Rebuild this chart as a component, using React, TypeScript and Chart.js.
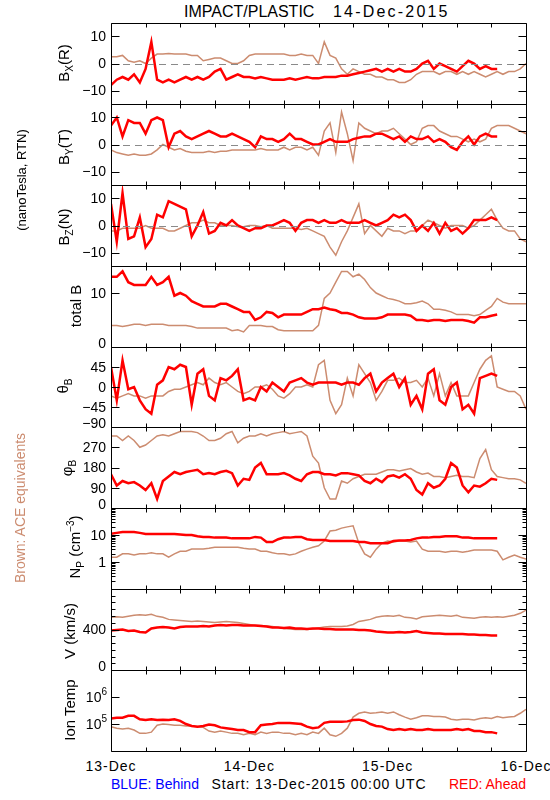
import React, { useEffect, useRef } from "react";
import { Chart, registerables } from "chart.js";

Chart.register(...registerables);

// ---------------- data (hours since 13-Dec-2015 00:00 UTC) ----------------
const HOURS_RED = [
  0, 1, 2, 3, 4, 5, 6, 7, 8, 9, 10, 11, 12, 13, 14, 15, 16, 17, 18, 19, 20, 21, 22, 23,
  24, 25, 26, 27, 28, 29, 30, 31, 32, 33, 34, 35, 36, 37, 38, 39, 40, 41, 42, 43, 44, 45, 46, 47,
  48, 49, 50, 51, 52, 53, 54, 55, 56, 57, 58, 59, 60, 61, 62, 63, 64, 65, 66, 67,
];
const HOURS_ACE = [
  0, 1, 2, 3, 4, 5, 6, 7, 8, 9, 10, 11, 12, 13, 14, 15, 16, 17, 18, 19, 20, 21, 22, 23,
  24, 25, 26, 27, 28, 29, 30, 31, 32, 33, 34, 35, 36, 37, 38, 39, 40, 41, 42, 43, 44, 45, 46, 47,
  48, 49, 50, 51, 52, 53, 54, 55, 56, 57, 58, 59, 60, 61, 62, 63, 64, 65, 66, 67, 68, 69, 70, 71, 72,
];

const BX_RED = [
  -8, -6, -5, -6, -4, -7, -2, 8, -6, -7,
  -6, -7, -6, -5, -6, -5, -6, -5, -3, -2,
  -6, -5, -4, -5, -5, -5.5, -5, -5.5, -6, -6,
  -6, -5.5, -6, -5.5, -5, -5.5, -5.5, -5, -5, -5,
  -4.5, -4.5, -4, -3.5, -3, -2.5, -2, -3, -2, -3,
  -2, -3, -3, -2, 0, 1, -2, 0, -1, -2,
  -3, -1, 1, 0, -2, -1, -2, -2,
];
const BX_ACE = [
  2.5, 2.5, 3, 1, 0.5, 1, 0, 2, 3.5, 3.5,
  3.7, 3.5, 3.5, 3.5, 3, 3, 1, 1.5, 2, 2,
  1, 0, 0, 1, 3, 3.5, 3.5, 3.5, 3.5, 3.5,
  3.5, 3, 3, 3.5, 3, 3, 0, 8, 3, 2,
  -2, -4, -2, -3, -4, -4, -5, -5, -6, -6,
  -7, -7, -6, -4, -3, -3, -3, -4, -3, -3,
  -4, -3, -4, -3, -4, -5, -4, -3, -4, -3,
  -3, -2, 0,
];

const BY_RED = [
  7, 10, 3, 9, 8, 8, 4, 9, 10, 9,
  -1, 4, 5, 3, 2, 3, 4, 5, 4, 3,
  3, 4, 3, 2, 1, -1, 3, 2, 2, 1,
  2, 4, 2, 2, 1, 0, 0, 1, 2, 1,
  1, 1, 2, 2.5, 3, 3, 4, 4, 3, 2,
  3, 1, 3, 2, 2, 3, 1, 2, 1, -1,
  -2, 1, 3, 0, 3, 4, 3, 3,
];
const BY_ACE = [
  -2, -3, -3.5, -4, -3.5, -4, -4, -3.5, -2, 0,
  -1, -2, -1.5, -2.5, -3, -3, -3, -2.5, -3, -2.5,
  -2.5, -2, -2, -2, -2, -2, -1.5, -2, -2, -2,
  -1, -2, -1, -1, -2, -1, -4, 5, 8, -3,
  12, 4, -6, 8, 6, 5, 4, 5, 5, 6,
  4, 2, 0, 1, 6, 7, 7, 5, 4, 3,
  3, 2, 1, 2, 1, 2, 6, 7, 7, 7,
  6, 5, 4,
];

const BZ_RED = [
  8, -6, 12, -5, -4, 3, -8, -5, 4, 3,
  9, 8, 7, 6, -4, 0, 5, -3, -2, 1,
  0, 2, 0, -1, -2, -1, -1, 0, 0, 1,
  2, 1, -2, 1, 2, 2, 1, 2, 1, 1,
  2, 1, 1, 1, 2, 1, 0, 1, 2, 4,
  3, 4, 2, -2, 0, -2, 1, -3, 1, -2,
  -1, -3, -1, 2, 2, 2, 3, 2,
];
const BZ_ACE = [
  -2, -2, -1, -1, -1, -1, 0, -1, -1, -1,
  -2, -2, -1, 0, 1, 1, 2, 1, 1, 0,
  0, 0, -0.5, -0.5, 0, 0, -0.5, 0, -1, -1,
  -1, -1, -1, -1.5, -1, -2, -3, -4, -8, -11,
  -6, -2, 3, 8, -3, 0, -2, -4, -1, -2,
  -2, -3, -2, -2, 0, 2, 1, 0, -1, 0,
  0, 0, -1, 0, 2, 4, 6, 2, -1, -2,
  -2, -5, -6,
];

const BTOT_RED = [
  13, 13, 14, 12, 11.5, 11.5, 11.5, 13, 11.5, 12,
  13, 9.5, 10, 9.5, 8.5, 8, 7.5, 7.5, 7.5, 8,
  8, 7.5, 7, 6.5, 6.5, 5, 5.5, 6.5, 6.3, 5.5,
  6, 6, 6, 6, 6.5, 7, 7, 7.3, 7, 6.8,
  6.3, 6.3, 6, 5.5, 5.3, 5.3, 5.3, 5.5, 6, 6,
  6, 6, 5.8, 5, 5, 4.8, 5, 5, 4.8, 5,
  5, 5, 4.8, 4.5, 5.5, 5.5, 5.8, 6,
];
const BTOT_ACE = [
  4, 4, 3.8, 4, 4.2, 4.2, 4, 4.2, 4.2, 4.2,
  4, 4, 4, 4, 3.8, 3.5, 3.5, 3.5, 3.5, 3.5,
  3.5, 3, 3.2, 2.8, 4, 4, 4, 3.8, 3.8, 3.2,
  3, 3, 3, 3, 3, 3, 4, 9, 10, 12,
  14, 14, 13, 13.5, 12.5, 11, 10, 9.5, 9, 8.8,
  8.5, 8, 8, 8.2, 8.5, 8, 7, 7, 6.8, 6.5,
  6, 6, 6, 5.8, 6, 6.8, 7.5, 9, 8.3, 8,
  8, 8, 8,
];

const THETA_RED = [
  45, -30, 60, -5, 0, -30, -50, -60, 5, 15,
  45, 40, 50, 45, -40, 30, 40, -20, -30, 20,
  15, 25, 40, -30, -25, -30, 0, -10, 10, 0,
  -10, 10, 15, 20, 10, 5, 10, 10, 10, 10,
  5, 10, 10, 5, 20, 30, -10, 10, 20, 30,
  0, 20, -40, -20, -50, 30, 40, -30, -40, 0,
  10, -50, -40, -60, 20, 25, 30, 25,
];
const THETA_ACE = [
  -20, -25, -20, -15, -20, -20, -25, -20, -20, -20,
  -10, -5, -5, 0, 5, 10, 5, 20, 10, 5,
  10, 0, -10, -15, -10, 0, 0, 5, -5, -20,
  -25, -15, 0, 0, 5, 0, 50, 60, -30, -60,
  -40, 20, -20, 50, 30, 10, -30, -10, 15, 15,
  20, 10, 10, 15, 0, 20, -20, 30, -20, 10,
  -20, -20, -20, 10, 40, 60, 70, 0, -5, -10,
  -10, -20, -50,
];

const PHI_RED = [
  150, 100, 120, 110, 115, 100, 80, 110, 40, 120,
  140, 160, 150, 160, 165, 170, 150, 155, 150, 160,
  165, 155, 100, 130, 125, 180, 200, 150, 150, 150,
  155, 145, 130, 120, 150, 160, 160, 150, 150, 145,
  155, 155, 150, 145, 120, 110, 130, 115, 140, 145,
  135, 150, 130, 80, 60, 110, 90, 100, 130, 200,
  180, 100, 70, 100, 95, 110, 130, 125,
];
const PHI_ACE = [
  320, 320, 300, 320, 300, 270, 280, 300, 320, 325,
  320, 330, 340, 340, 340, 335, 320, 300, 300, 310,
  330, 340, 290, 310, 320, 320, 330, 320, 330, 335,
  340, 330, 335, 340, 320, 230, 200, 90, 40, 40,
  120, 110, 130, 140, 150, 150, 150, 160, 170, 170,
  165, 170, 175, 160, 150, 155, 140, 140, 135, 140,
  145, 140, 140, 135, 220, 260, 170, 140, 135, 130,
  130, 125, 110,
];

const NP_RED = [
  11, 12, 13, 13, 13, 12, 11, 11, 11, 11,
  11, 11, 10.5, 10, 10, 9, 8.5, 8.5, 8, 8,
  8, 7.5, 7.5, 7.5, 7.5, 8.5, 8, 5.5, 5.5, 7,
  8, 8, 8.5, 8.5, 7, 6.5, 6.5, 6.5, 6, 6,
  6, 6, 6, 5.5, 5.5, 5, 5, 5, 5, 6,
  6.2, 6.2, 6.5, 7.5, 8, 8, 8.5, 8.5, 9, 9,
  9, 8, 8, 7.5, 7.5, 7.5, 7.5, 7.5,
];
const NP_ACE = [
  1.5, 1.5, 2, 2, 1.8, 2, 2, 2.2, 2, 2,
  1.5, 2, 2.5, 2.5, 3, 3, 3, 3.2, 3.5, 3.5,
  3.5, 3.5, 3.5, 3.2, 3, 3, 2.5, 2.5, 2.2, 2,
  2, 1.8, 2, 2.5, 3, 3.5, 4, 6, 14, 15,
  18, 20, 22, 5, 2, 1.5, 3, 5, 6, 5.5,
  6, 6, 5.5, 6, 3, 2.5, 2.5, 2.5, 2.3, 2.5,
  2.5, 2.3, 2.5, 2.8, 2.8, 2.8, 2.8, 2.5, 1.2, 1.5,
  1.8, 1.5, 1.3,
];

const V_RED = [
  390, 395, 400, 385, 390, 375, 370, 410, 420, 425,
  420, 410, 425, 430, 430, 430, 435, 430, 440, 445,
  440, 445, 445, 440, 440, 440, 435, 430, 420, 420,
  415, 420, 410, 410, 405, 410, 410, 405, 405, 400,
  400, 400, 400, 395, 395, 390, 380, 375, 370, 370,
  375, 370, 375, 385, 370, 365, 360, 360, 355, 355,
  355, 355, 350, 350, 345, 345, 340, 340,
];
const V_ACE = [
  520, 525, 520, 530, 540, 545, 540, 550, 530, 520,
  500, 495, 490, 485, 480, 485, 480, 475, 470, 475,
  480, 475, 470, 460, 450, 440, 440, 435, 430, 420,
  410, 405, 400, 400, 400, 405, 415, 425, 430, 430,
  430, 435, 450, 480, 490, 500, 520, 530, 535, 530,
  540, 520, 515, 505, 525, 530, 535, 540, 535, 530,
  540, 520, 515, 510, 520, 525, 520, 525, 520, 530,
  540, 560, 590,
];

const TEMP_RED = [
  1.6e5, 1.7e5, 1.7e5, 2.0e5, 2.0e5, 1.5e5, 1.4e5, 1.5e5, 1.4e5, 1.45e5,
  1.4e5, 1.5e5, 1.3e5, 1.0e5, 0.85e5, 0.8e5, 0.85e5, 0.95e5, 0.9e5, 0.75e5,
  0.7e5, 0.65e5, 0.6e5, 0.6e5, 0.5e5, 0.5e5, 0.9e5, 0.95e5, 1.0e5, 1.1e5,
  1.1e5, 1.1e5, 1.05e5, 1.0e5, 0.8e5, 0.7e5, 0.75e5, 1.1e5, 1.2e5, 1.2e5,
  1.2e5, 1.25e5, 1.4e5, 1.45e5, 1.3e5, 1.0e5, 0.85e5, 0.8e5, 0.65e5, 0.6e5,
  0.65e5, 0.6e5, 0.65e5, 0.6e5, 0.6e5, 0.65e5, 0.6e5, 0.6e5, 0.6e5, 0.6e5,
  0.65e5, 0.6e5, 0.65e5, 0.55e5, 0.55e5, 0.5e5, 0.5e5, 0.45e5,
];
const TEMP_ACE = [
  0.8e5, 0.7e5, 0.65e5, 0.7e5, 0.6e5, 0.45e5, 0.45e5, 0.5e5, 0.9e5, 1.0e5,
  0.95e5, 0.9e5, 0.9e5, 0.85e5, 0.85e5, 0.8e5, 0.75e5, 0.55e5, 0.5e5, 0.55e5,
  0.5e5, 0.45e5, 0.45e5, 0.4e5, 0.45e5, 0.4e5, 0.5e5, 0.45e5, 0.5e5, 0.5e5,
  0.45e5, 0.45e5, 0.4e5, 0.45e5, 0.4e5, 0.5e5, 0.45e5, 0.7e5, 0.4e5, 0.35e5,
  0.45e5, 0.7e5, 1.8e5, 2.5e5, 2.8e5, 2.5e5, 2.6e5, 2.8e5, 2.5e5, 2.8e5,
  2.2e5, 1.8e5, 1.5e5, 1.7e5, 2.0e5, 2.0e5, 1.9e5, 1.9e5, 1.8e5, 1.5e5,
  1.4e5, 1.5e5, 1.5e5, 1.4e5, 1.6e5, 1.7e5, 1.6e5, 1.9e5, 1.7e5, 1.8e5,
  1.9e5, 2.5e5, 3.5e5,
];

// axis ticks / labels
const DAY_LABELS = ["13-Dec", "14-Dec", "15-Dec", "16-Dec"];
const DAY_HOURS = [0, 24, 48, 72];
const X_TICK_HOURS = [0, 6, 12, 18, 24, 30, 36, 42, 48, 54, 60, 66, 72];
const NP_MINOR = [0.2, 0.3, 0.4, 0.5, 0.6, 0.7, 0.8, 0.9, 2, 3, 4, 5, 6, 7, 8, 9, 20, 30, 40, 50, 60, 70, 80, 90];
const V_MINOR = [66.7, 133.3, 200, 266.7, 333.3, 466.7, 533.3, 600, 666.7, 733.3];

// ---------------- layout / style ----------------
const RED = "#ff0000";
const TAN = "rgb(204,140,112)";
const FONT = "'Liberation Sans', Arial, Helvetica, sans-serif";
const PLOT_LEFT = 111;
const PLOT_RIGHT = 526;
const PAD = 3;
const PANEL_TOPS = [23, 104, 185, 266, 347, 427, 508, 589, 670];
const PLOT_BOTTOM = 751;

type Lab = { v: number; t: string; exp?: string };
type Spec = {
  red: number[];
  ace: number[];
  min: number;
  max: number;
  log?: boolean;
  zero?: boolean;
  labels: Lab[];
  left: number[];
  right: number[];
  minor?: number[];
};

const M = "\u2212";
const PANELS: Spec[] = [
  { red: BX_RED, ace: BX_ACE, min: -15, max: 15, zero: true,
    labels: [{ v: 10, t: "10" }, { v: 0, t: "0" }, { v: -10, t: M + "10" }],
    left: [10, 0, -10], right: [10, 5, 0, -5, -10] },
  { red: BY_RED, ace: BY_ACE, min: -15, max: 15, zero: true,
    labels: [{ v: 10, t: "10" }, { v: 0, t: "0" }, { v: -10, t: M + "10" }],
    left: [10, 0, -10], right: [10, 5, 0, -5, -10] },
  { red: BZ_RED, ace: BZ_ACE, min: -15, max: 15, zero: true,
    labels: [{ v: 10, t: "10" }, { v: 0, t: "0" }, { v: -10, t: M + "10" }],
    left: [10, 0, -10], right: [10, 5, 0, -5, -10] },
  { red: BTOT_RED, ace: BTOT_ACE, min: 0, max: 15,
    labels: [{ v: 10, t: "10" }, { v: 0, t: "0" }],
    left: [10], right: [10, 5] },
  { red: THETA_RED, ace: THETA_ACE, min: -90, max: 90,
    labels: [{ v: 45, t: "45" }, { v: 0, t: "0" }, { v: -45, t: M + "45" }, { v: -90, t: M + "90" }],
    left: [45, 0, -45], right: [45, 0, -45] },
  { red: PHI_RED, ace: PHI_ACE, min: 0, max: 360,
    labels: [{ v: 270, t: "270" }, { v: 180, t: "180" }, { v: 90, t: "90" }, { v: 0, t: "0" }],
    left: [270, 180, 90], right: [270, 180, 90] },
  { red: NP_RED, ace: NP_ACE, min: 0.1, max: 100, log: true,
    labels: [{ v: 10, t: "10" }, { v: 1, t: "1" }],
    left: [10, 1], right: [10, 1], minor: NP_MINOR },
  { red: V_RED, ace: V_ACE, min: 0, max: 800,
    labels: [{ v: 400, t: "400" }, { v: 0, t: "0" }],
    left: [400], right: [600, 400, 200], minor: V_MINOR },
  { red: TEMP_RED, ace: TEMP_ACE, min: 1e4, max: 1e7, log: true,
    labels: [{ v: 1e6, t: "10", exp: "6" }, { v: 1e5, t: "10", exp: "5" }],
    left: [1e6, 1e5], right: [1e6, 1e5] },
];

function makeFrame(spec: Spec) {
  return {
    id: "frame",
    afterDatasetsDraw(chart: any) {
      const { ctx, chartArea: a, scales } = chart;
      const xs = scales.x;
      const ys = scales.y;
      const L = a.left + 0.5;
      const R = a.right + 0.5;
      const T = a.top + 0.5;
      const B = a.bottom + 0.5;
      ctx.save();
      if (spec.zero) {
        const y0 = Math.round(ys.getPixelForValue(0)) + 0.5;
        ctx.strokeStyle = "#8a8a8a";
        ctx.lineWidth = 1;
        ctx.setLineDash([7, 5]);
        ctx.beginPath();
        ctx.moveTo(a.left, y0);
        ctx.lineTo(a.right, y0);
        ctx.stroke();
        ctx.setLineDash([]);
      }
      ctx.strokeStyle = "#000";
      ctx.lineWidth = 1;
      ctx.beginPath();
      ctx.rect(L, T, R - L, B - T);
      for (const h of X_TICK_HOURS) {
        const px = Math.round(xs.getPixelForValue(h)) + 0.5;
        ctx.moveTo(px, T);
        ctx.lineTo(px, T + 4);
        ctx.moveTo(px, B);
        ctx.lineTo(px, B - 4);
      }
      const yp = (v: number) => Math.round(ys.getPixelForValue(v)) + 0.5;
      for (const v of spec.left) {
        const y = yp(v);
        ctx.moveTo(L, y);
        ctx.lineTo(L + 8, y);
      }
      for (const v of spec.right) {
        const y = yp(v);
        ctx.moveTo(R, y);
        ctx.lineTo(R - 8, y);
      }
      if (spec.minor) {
        for (const v of spec.minor) {
          const y = yp(v);
          ctx.moveTo(L, y);
          ctx.lineTo(L + 4, y);
          ctx.moveTo(R, y);
          ctx.lineTo(R - 4, y);
        }
      }
      ctx.stroke();

      ctx.fillStyle = "#000";
      ctx.textBaseline = "middle";
      ctx.textAlign = "right";
      for (const lb of spec.labels) {
        let y = ys.getPixelForValue(lb.v);
        y = Math.min(y, a.bottom - 4);
        if (lb.exp) {
          ctx.font = "10px " + FONT;
          const ew = ctx.measureText(lb.exp).width;
          ctx.fillText(lb.exp, 107, y - 5);
          ctx.font = "14px " + FONT;
          ctx.fillText(lb.t, 107 - ew, y + 1);
        } else {
          ctx.font = "14px " + FONT;
          ctx.fillText(lb.t, 106, y + 1);
        }
      }
      ctx.restore();
    },
  };
}

const subS: React.CSSProperties = { fontSize: "10px", lineHeight: 0, verticalAlign: "-4px" };
const supS: React.CSSProperties = { fontSize: "10px", lineHeight: 0, verticalAlign: "6px" };

const Y_TITLES: { x: number; y: number; node: React.ReactNode }[] = [
  { x: 63, y: 63, node: <>B<span style={subS}>X</span>(R)</> },
  { x: 63, y: 147, node: <>B<span style={subS}>Y</span>(T)</> },
  { x: 63, y: 227, node: <>B<span style={subS}>Z</span>(N)</> },
  { x: 75, y: 306, node: <>total B</> },
  { x: 62, y: 386, node: <>θ<span style={subS}>B</span></> },
  { x: 66, y: 468, node: <>φ<span style={subS}>B</span></> },
  { x: 74, y: 547, node: <>N<span style={subS}>P</span> (cm<span style={supS}>{M}3</span>)</> },
  { x: 69, y: 631, node: <>V (km/s)</> },
  { x: 69, y: 710, node: <>Ion Temp</> },
];

function VText(props: { x: number; y: number; size: number; color?: string; children: React.ReactNode }) {
  return (
    <div
      style={{
        position: "absolute",
        left: props.x,
        top: props.y,
        transform: "translate(-50%, -50%) rotate(-90deg)",
        whiteSpace: "nowrap",
        fontSize: props.size,
        lineHeight: "normal",
        color: props.color || "#000",
      }}
    >
      {props.children}
    </div>
  );
}

function HText(props: {
  x: number;
  y: number;
  size: number;
  color?: string;
  spacing?: number;
  align?: "center" | "left" | "right";
  children: React.ReactNode;
}) {
  const tx = props.align === "left" ? "0" : props.align === "right" ? "-100%" : "-50%";
  return (
    <div
      style={{
        position: "absolute",
        left: props.x,
        top: props.y,
        transform: `translate(${tx}, -50%)`,
        whiteSpace: "pre",
        fontSize: props.size,
        letterSpacing: props.spacing ? props.spacing + "px" : undefined,
        lineHeight: "normal",
        color: props.color || "#000",
      }}
    >
      {props.children}
    </div>
  );
}

export default function App() {
  const refs = useRef<(HTMLCanvasElement | null)[]>([]);

  useEffect(() => {
    const charts: Chart[] = [];
    PANELS.forEach((spec, i) => {
      const cv = refs.current[i];
      if (!cv) return;
      const chart = new Chart(cv, {
        type: "line",
        data: {
          datasets: [
            {
              label: "Ahead",
              data: HOURS_RED.map((h, k) => ({ x: h, y: spec.red[k] })),
              borderColor: RED,
              backgroundColor: RED,
              borderWidth: 2.5,
              pointRadius: 0,
              tension: 0,
              fill: false,
            },
            {
              label: "ACE",
              data: HOURS_ACE.map((h, k) => ({ x: h, y: spec.ace[k] })),
              borderColor: TAN,
              backgroundColor: TAN,
              borderWidth: 1.5,
              pointRadius: 0,
              tension: 0,
              fill: false,
            },
          ],
        },
        options: {
          animation: false,
          responsive: false,
          maintainAspectRatio: false,
          devicePixelRatio: 1,
          events: [],
          layout: { padding: { left: PLOT_LEFT, right: 550 - PLOT_RIGHT, top: PAD, bottom: PAD } },
          plugins: { legend: { display: false }, tooltip: { enabled: false } },
          scales: {
            x: { type: "linear", min: 0, max: 72, display: false },
            y: { type: spec.log ? "logarithmic" : "linear", min: spec.min, max: spec.max, display: false },
          },
        },
        plugins: [makeFrame(spec)],
      } as any);
      charts.push(chart);
    });
    return () => charts.forEach((c) => c.destroy());
  }, []);

  const xPix = (h: number) => PLOT_LEFT + (h / 72) * (PLOT_RIGHT - PLOT_LEFT);

  return (
    <div
      style={{
        position: "absolute",
        left: 0,
        top: 0,
        width: 550,
        height: 800,
        background: "#fff",
        fontFamily: FONT,
        color: "#000",
        overflow: "hidden",
      }}
    >
      <HText x={184} y={12} size={16} align="left">IMPACT/PLASTIC</HText>
      <HText x={333} y={12} size={16} spacing={2.2} align="left">14-Dec-2015</HText>
      {PANELS.map((_, i) => {
        const top = PANEL_TOPS[i];
        const bottom = i < PANELS.length - 1 ? PANEL_TOPS[i + 1] : PLOT_BOTTOM;
        const h = bottom - top + 2 * PAD;
        return (
          <canvas
            key={i}
            ref={(el) => {
              refs.current[i] = el;
            }}
            width={550}
            height={h}
            style={{ position: "absolute", left: 0, top: top - PAD, width: 550, height: h }}
          />
        );
      })}
      {Y_TITLES.map((t, i) => (
        <VText key={i} x={t.x} y={t.y} size={15}>
          {t.node}
        </VText>
      ))}
      <VText x={21} y={180} size={13}>(nanoTesla, RTN)</VText>
      <VText x={20} y={508} size={14} color={TAN}>Brown: ACE equivalents</VText>
      {DAY_LABELS.map((d, i) => (
        <HText key={d} x={xPix(DAY_HOURS[i])} y={766} size={14} spacing={1}>{d}</HText>
      ))}
      <HText x={111} y={784} size={14} color="#0000ff" align="left">BLUE: Behind</HText>
      <HText x={319} y={784} size={14} spacing={0.9}>Start: 13-Dec-2015 00:00 UTC</HText>
      <HText x={526} y={784} size={14} color={RED} align="right">RED: Ahead</HText>
    </div>
  );
}
